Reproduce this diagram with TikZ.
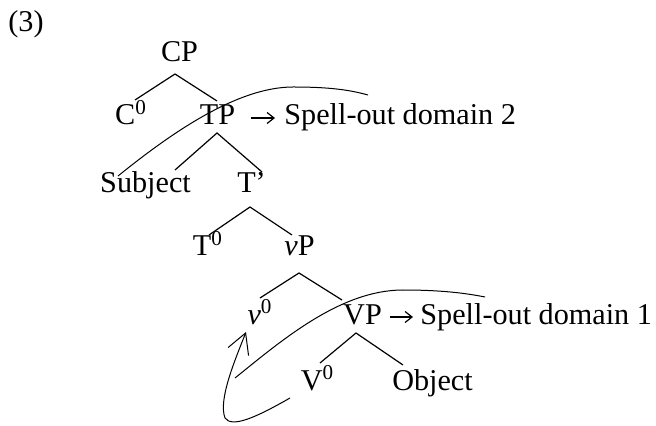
\documentclass[tikz,border=0pt]{standalone}
\usepackage{fontspec}
\setmainfont{Liberation Serif}
\usetikzlibrary{arrows.meta}
\begin{document}
\begin{tikzpicture}[x=0.5pt,y=0.5pt,
  lbl/.style={anchor=base,font=\fontsize{15.1}{18}\selectfont},
  branch/.style={line width=0.6pt},
  spellline/.style={line width=0.5pt},
  soarrow/.style={line width=0.6pt,-{Straight Barb[length=3.5pt,width=5.5pt]}},
  move/.style={line width=0.5pt,-{Straight Barb[length=10pt,width=11pt]}}]
\tikzstyle{every node}+=[inner sep=0pt]
\useasboundingbox (0,0) rectangle (656,-426);
% labels
\node [lbl,anchor=base west] (ex) at (8,-32) {(3)};
\node [lbl] (cp) at (179.5,-62) {CP};
\node [lbl] (czero) at (131,-125) {C\textsuperscript{0}};
\node [lbl] (tp) at (217.5,-125) {TP};
\node [lbl,anchor=base west] (spelltwo) at (284,-125) {Spell-out domain 2};
\node [lbl] (subj) at (145.5,-193) {Subject};
\node [lbl] (tbar) at (251.5,-193) {T’};
\node [lbl] (tzero) at (208,-256) {T\textsuperscript{0}};
\node [lbl] (vp) at (299.5,-256) {\textit{v}P};
\node [lbl] (vzero) at (260,-324) {\textit{v}\textsuperscript{0}};
\node [lbl] (bigvp) at (362.5,-324) {VP};
\node [lbl,anchor=base west] (spellone) at (420,-324) {Spell-out domain 1};
\node [lbl] (bigvzero) at (317.5,-390) {V\textsuperscript{0}};
\node [lbl] (obj) at (432.5,-390) {Object};
% branches
\draw [branch] ([shift={(4,25)}]czero.base) -- ([shift={(-4.5,-12)}]cp.base) -- ([shift={(-0.5,24)}]tp.base);
\draw [branch] ([shift={(29.5,23)}]subj.base) -- ([shift={(-0.5,-8)}]tp.base) -- ([shift={(10.5,21)}]tbar.base);
\draw [branch] ([shift={(1,21)}]tzero.base) -- ([shift={(-1.5,-14)}]tbar.base) -- ([shift={(-7.5,21)}]vp.base);
\draw [branch] ([shift={(0,26)}]vzero.base) -- ([shift={(-0.5,-17)}]vp.base) -- ([shift={(-20.5,24)}]bigvp.base);
\draw [branch] ([shift={(2.5,27)}]bigvzero.base) -- ([shift={(-6.5,-9)}]bigvp.base) -- ([shift={(-29.5,25)}]obj.base);
% spell-out arrows
\draw [soarrow] ([shift={(15,7)}]tp.base east) -- ([shift={(-9,7)}]spelltwo.base west);
\draw [soarrow] ([shift={(8,7)}]bigvp.base east) -- ([shift={(-7,7)}]spellone.base west);
% spell-out domains
\draw [spellline] (118,-176) .. controls (164,-139) and (234,-87) .. (293,-87)
  .. controls (330,-87) and (350,-90) .. (368,-95);
\draw [spellline] (235,-378) .. controls (281,-341) and (340,-290) .. (403,-290)
  .. controls (440,-290) and (465,-293) .. (485,-297);
% movement of V to v
\draw [move] ([shift={(-27.5,-8)}]bigvzero.base) .. controls +(-35,-20) and +(7,-10) .. (225,-418)
  .. controls +(-7,18) and +(-11,-28) .. ([shift={(-14,-8)}]vzero.base);
\end{tikzpicture}
\end{document}
